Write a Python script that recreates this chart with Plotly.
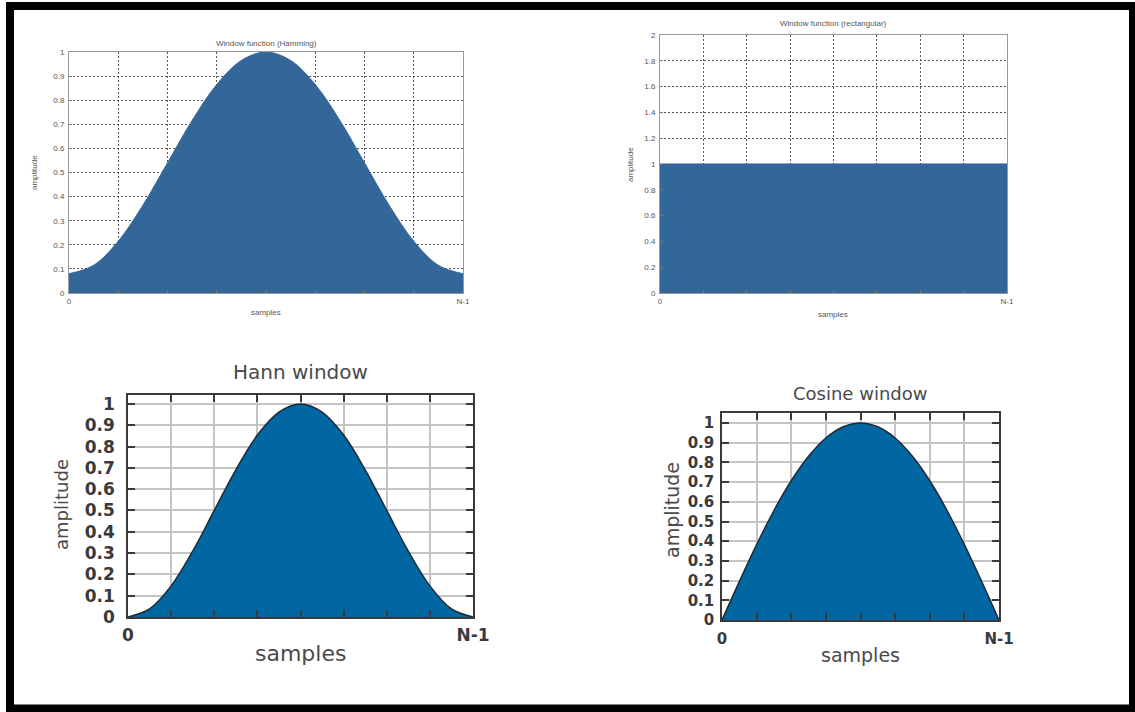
import plotly.graph_objects as go

W, H = 1135, 712

# ---- data (x positions 0..16 span 0..N-1) ----
sample_pos = list(range(17))
hamming = [0.08, 0.115, 0.215, 0.364, 0.54, 0.716, 0.865, 0.965, 1.0,
           0.965, 0.865, 0.716, 0.54, 0.364, 0.215, 0.115, 0.08]
rect_pos = [0, 16]
rectangular = [1.0, 1.0]
hann = [0.0, 0.038, 0.146, 0.309, 0.5, 0.691, 0.854, 0.962, 1.0,
        0.962, 0.854, 0.691, 0.5, 0.309, 0.146, 0.038, 0.0]
cosine = [0.0, 0.195, 0.383, 0.556, 0.707, 0.831, 0.924, 0.981, 1.0,
          0.981, 0.924, 0.831, 0.707, 0.556, 0.383, 0.195, 0.0]
xtick_vals = [0, 2, 4, 6, 8, 10, 12, 14, 16]
xtick_text = ["0", "", "", "", "", "", "", "", "N-1"]
titles = ["Window function (Hamming)", "Window function (rectangular)",
          "Hann window", "Cosine window"]
xlabel = "samples"
ylabel = "amplitude"


def X(px):
    return px / W


def Y(py):
    return 1 - py / H


TOP_FILL = "#346799"
BOT_FILL = "#0067a3"

fig = go.Figure()
fig.add_trace(go.Scatter(x=sample_pos, y=hamming, mode="lines", line=dict(color=TOP_FILL, width=1, shape="spline"),
                         fill="tozeroy", fillcolor=TOP_FILL, xaxis="x", yaxis="y", hoverinfo="skip"))
fig.add_trace(go.Scatter(x=rect_pos, y=rectangular, mode="lines", line=dict(color="#2d5d8c", width=1),
                         fill="tozeroy", fillcolor=TOP_FILL, xaxis="x2", yaxis="y2", hoverinfo="skip"))
fig.add_trace(go.Scatter(x=sample_pos, y=hann, mode="lines", line=dict(color="#1c2a36", width=1.5, shape="spline"),
                         fill="tozeroy", fillcolor=BOT_FILL, xaxis="x3", yaxis="y3", hoverinfo="skip"))
fig.add_trace(go.Scatter(x=sample_pos, y=cosine, mode="lines", line=dict(color="#1c2a36", width=1.5, shape="spline"),
                         fill="tozeroy", fillcolor=BOT_FILL, xaxis="x4", yaxis="y4", hoverinfo="skip"))

small_font = dict(family="Liberation Sans", size=8, color="#555")


def top_axes(xd, yd, yr, dt, standoff):
    xa = dict(domain=xd, range=[0, 16], tickvals=xtick_vals, ticktext=xtick_text,
              showgrid=True, gridcolor="#555", griddash="2px,2px", gridwidth=1,
              showline=True, linecolor="#999", linewidth=1, mirror=True,
              ticks="inside", ticklen=3, tickcolor="#777", tickfont=small_font,
              zeroline=False, automargin=False, fixedrange=True)
    ya = dict(domain=yd, range=yr, dtick=dt, tick0=0,
              showgrid=True, gridcolor="#555", griddash="2px,2px", gridwidth=1,
              showline=True, linecolor="#999", linewidth=1, mirror=True,
              ticks="inside", ticklen=3, tickcolor="#777", tickfont=small_font,
              ticklabelstandoff=standoff,
              zeroline=False, automargin=False, fixedrange=True)
    return xa, ya


def bot_axes(xd, yd, yr, fsize, ystand, xstand):
    tf = dict(family="DejaVu Sans", size=fsize, color="#3a3a3a", weight="bold")
    xa = dict(domain=xd, range=[0, 16], tickvals=xtick_vals, ticktext=xtick_text,
              showgrid=True, gridcolor="#c4c4c4", gridwidth=1.5,
              showline=True, linecolor="#3a3a3a", linewidth=1.5, mirror="ticks",
              ticks="inside", ticklen=7, tickwidth=1.5, tickcolor="#3a3a3a", tickfont=tf,
              ticklabelstandoff=xstand,
              zeroline=False, automargin=False, fixedrange=True)
    ya = dict(domain=yd, range=yr, dtick=0.1, tick0=0,
              showgrid=True, gridcolor="#c4c4c4", gridwidth=1.5,
              showline=True, linecolor="#3a3a3a", linewidth=1.5, mirror="ticks",
              ticks="inside", ticklen=7, tickwidth=1.5, tickcolor="#3a3a3a", tickfont=tf,
              ticklabelstandoff=ystand,
              zeroline=False, automargin=False, fixedrange=True)
    return xa, ya


x1, y1 = top_axes([X(69), X(463)], [Y(293), Y(52)], [0, 1], 0.1, 2)
x2, y2 = top_axes([X(660), X(1007)], [Y(293), Y(35)], [0, 2], 0.2, 2)
x3, y3 = bot_axes([X(128), X(473)], [Y(617), Y(395)], [0, 1.042], 17, 8, 2)
x4, y4 = bot_axes([X(722), X(999)], [Y(620), Y(413)], [0, 1.051], 15, 3, 4)
y1.update(anchor="x")
x1.update(anchor="y")
x2.update(anchor="y2")
y2.update(anchor="x2")
x3.update(anchor="y3")
y3.update(anchor="x3")
x4.update(anchor="y4")
y4.update(anchor="x4")

annotations = []


def txt(s, px, py, size, color="#444", angle=0, family="DejaVu Sans"):
    annotations.append(dict(text=s, x=X(px), y=Y(py), xref="paper", yref="paper",
                            showarrow=False, textangle=angle, xanchor="center", yanchor="middle",
                            font=dict(family=family, size=size, color=color)))


# top-left
txt(titles[0], 266, 43, 8, "#555", family="Liberation Sans")
txt(xlabel, 266, 312, 8, "#555", family="Liberation Sans")
txt(ylabel, 35, 173, 8, "#555", -90, family="Liberation Sans")
# top-right
txt(titles[1], 833, 24, 8, "#555", family="Liberation Sans")
txt(xlabel, 833, 315, 8, "#555", family="Liberation Sans")
txt(ylabel, 630, 165, 8, "#555", -90, family="Liberation Sans")
# bottom-left
txt(titles[2], 300, 372, 20, "#4a4a4a")
txt(xlabel, 300, 653, 22, "#4a4a4a")
txt(ylabel, 61, 505, 18, "#4a4a4a", -90)
# bottom-right
txt(titles[3], 860, 393, 18, "#4a4a4a")
txt(xlabel, 860, 655, 19, "#4a4a4a")
txt(ylabel, 672, 510, 19, "#4a4a4a", -90)

frame = dict(type="rect", xref="paper", yref="paper",
             x0=X(10), x1=X(1133), y0=Y(708.5), y1=Y(6), line=dict(color="black", width=8),
             fillcolor="rgba(0,0,0,0)", layer="above")

fig.update_layout(
    width=W, height=H, autosize=False,
    margin=dict(l=0, r=0, t=0, b=0, pad=0),
    paper_bgcolor="white", plot_bgcolor="white",
    showlegend=False,
    xaxis=x1, yaxis=y1, xaxis2=x2, yaxis2=y2,
    xaxis3=x3, yaxis3=y3, xaxis4=x4, yaxis4=y4,
    annotations=annotations, shapes=[frame],
)

fig.write_html("out.html", config={"displayModeBar": False},
               post_script="document.body.style.margin='0';document.body.style.overflow='hidden';")
